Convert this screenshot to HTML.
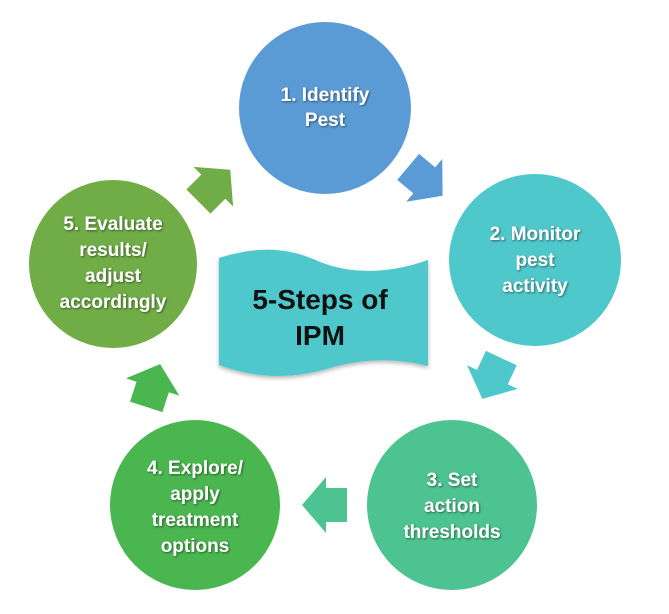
<!DOCTYPE html>
<html><head><meta charset="utf-8"><style>
body{margin:0;width:669px;height:614px;background:#fff;overflow:hidden}
svg{display:block}
.t{font-family:"Liberation Sans",sans-serif;font-weight:bold;font-size:19px;fill:#fff;text-anchor:middle}
.b{font-family:"Liberation Sans",sans-serif;font-weight:bold;font-size:28px;fill:#111;text-anchor:middle}
</style></head><body>
<svg width="669" height="614" viewBox="0 0 669 614">
<defs>
<filter id="s" x="-20%" y="-20%" width="140%" height="140%"><feDropShadow dx="1" dy="1" stdDeviation="1" flood-color="#000" flood-opacity="0.5"/></filter>
<filter id="bs" x="-10%" y="-10%" width="120%" height="130%"><feDropShadow dx="0" dy="2" stdDeviation="2" flood-color="#000" flood-opacity="0.3"/></filter>
<polygon id="ar" points="-22,-17 -1,-17 -1,-28 23,0 -1,28 -1,17 -22,17"/>
</defs>
<circle cx="325" cy="108" r="86" fill="#5b9bd5"/>
<circle cx="535" cy="260" r="86" fill="#4fc8cc"/>
<circle cx="452" cy="505" r="85" fill="#4cc390"/>
<circle cx="195" cy="505" r="85" fill="#4ab64f"/>
<circle cx="113" cy="264" r="84" fill="#70ad47"/>
<use href="#ar" fill="#5b9bd5" transform="translate(425,181) rotate(40)"/>
<use href="#ar" fill="#4fc8cc" transform="translate(492,378) rotate(115)"/>
<use href="#ar" fill="#4cc390" transform="translate(325,505) rotate(180)"/>
<use href="#ar" fill="#4ab64f" transform="translate(153,386) rotate(-72)"/>
<use href="#ar" fill="#70ad47" transform="translate(214,186) rotate(-45)"/>
<path filter="url(#bs)" fill="#4fc8cc" d="M219,258 C260,245 290,248 320,262 C355,276 395,272 428,260 L428,366 C395,358 365,358 330,368 C290,380 255,378 219,365 Z"/>
<text class="b" x="320" y="309">5-Steps of</text>
<text class="b" x="320" y="345">IPM</text>
<g filter="url(#s)">
<text class="t" x="325" y="101">1. Identify</text>
<text class="t" x="325" y="126">Pest</text>
<text class="t" x="535" y="240">2. Monitor</text>
<text class="t" x="535" y="266">pest</text>
<text class="t" x="535" y="292">activity</text>
<text class="t" x="452" y="486">3. Set</text>
<text class="t" x="452" y="512">action</text>
<text class="t" x="452" y="538">thresholds</text>
<text class="t" x="195" y="474">4. Explore/</text>
<text class="t" x="195" y="500">apply</text>
<text class="t" x="195" y="526">treatment</text>
<text class="t" x="195" y="552">options</text>
<text class="t" x="113" y="230">5. Evaluate</text>
<text class="t" x="113" y="256">results/</text>
<text class="t" x="113" y="282">adjust</text>
<text class="t" x="113" y="308">accordingly</text>
</g>
</svg>
</body></html>
